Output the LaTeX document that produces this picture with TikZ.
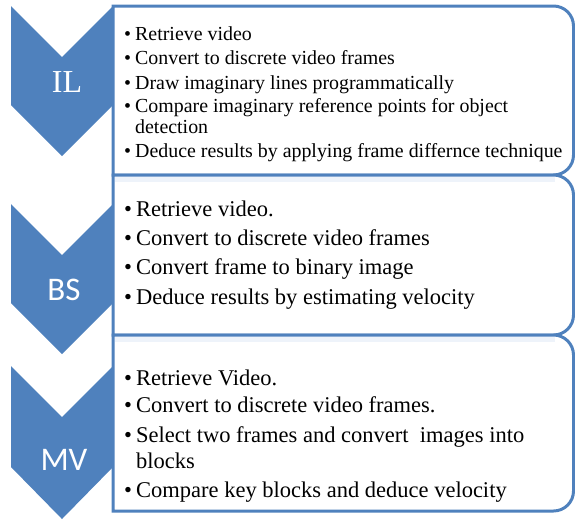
\documentclass[tikz,border=0pt]{standalone}
\usepackage{fontspec}
\setmainfont{Liberation Serif}
\newfontfamily\carlitofont{Carlito}
\definecolor{ablue}{HTML}{4F81BD}
\definecolor{strip}{HTML}{EEF3FA}
\tikzset{
  chev/.style={fill=ablue, draw=none},
  boxline/.style={draw=ablue, line width=3pt, fill=white},
  stripfill/.style={fill=strip, draw=none},
  ilbl/.style={text=white, inner sep=0pt, font=\fontsize{32}{32}\selectfont},
  sbl/.style={text=white, inner sep=0pt, font=\carlitofont\fontsize{33}{33}\selectfont},
  smalltxt/.style={anchor=base west, inner sep=0pt, font=\fontsize{19.9}{19.9}\selectfont},
  bigtxt/.style={anchor=base west, inner sep=0pt, font=\fontsize{22.5}{22.5}\selectfont},
}
\begin{document}
\begin{tikzpicture}[x=1pt,y=1pt]
\useasboundingbox (0,0) rectangle (575,-520);
% chevrons
\path[chev] (11,-6) -- (62,-57) -- (113,-6) -- (113,-105) -- (62,-156) -- (11,-105) -- cycle;
\path[chev] (11,-204) -- (62,-255) -- (113,-204) -- (113,-303) -- (62,-354) -- (11,-303) -- cycle;
\path[chev] (11,-366) -- (62,-417) -- (113,-366) -- (113,-467) -- (62,-519) -- (11,-467) -- cycle;
% boxes
\draw[boxline] (113,-175) -- (113,-6) -- (553.5,-6) arc[start angle=90,end angle=0,radius=20] -- (573.5,-155) arc[start angle=0,end angle=-90,radius=20] -- cycle;
\draw[boxline] (113,-335) -- (113,-175) -- (553.5,-175) arc[start angle=90,end angle=0,radius=20] -- (573.5,-315) arc[start angle=0,end angle=-90,radius=20] -- cycle;
\draw[boxline] (113,-511) -- (113,-335) -- (553.5,-335) arc[start angle=90,end angle=0,radius=20] -- (573.5,-491) arc[start angle=0,end angle=-90,radius=20] -- cycle;
\path[stripfill] (114.5,-176.5) rectangle (555,-182);
\path[stripfill] (114.5,-336.5) rectangle (555,-342);
% labels
\node[ilbl] (il) at (67,-82) {IL};
\node[sbl] (bs) at (64,-290) {BS};
\node[sbl] (mv) at (64,-460) {MV};
% IL text
\node[smalltxt] (ilb1) at (124,-40) {•};
\node[smalltxt] (ilt1) at (135,-40) {Retrieve video};
\node[smalltxt] (ilb2) at (124,-64.5) {•};
\node[smalltxt] (ilt2) at (135,-64.5) {Convert to discrete video frames};
\node[smalltxt] (ilb3) at (124,-89) {•};
\node[smalltxt] (ilt3) at (135,-89) {Draw imaginary lines programmatically};
\node[smalltxt] (ilb4) at (124,-112.5) {•};
\node[smalltxt] (ilt4) at (135,-112.5) {Compare imaginary reference points for object};
\node[smalltxt] (ilt4b) at (135,-133) {detection};
\node[smalltxt] (ilb5) at (124,-157) {•};
\node[smalltxt] (ilt5) at (135,-157) {Deduce results by applying frame differnce technique};
% BS text
\node[bigtxt] (bsb1) at (124,-216) {•};
\node[bigtxt] (bst1) at (136,-216) {Retrieve video.};
\node[bigtxt] (bsb2) at (124,-245) {•};
\node[bigtxt] (bst2) at (136,-245) {Convert to discrete video frames};
\node[bigtxt] (bsb3) at (124,-274.5) {•};
\node[bigtxt] (bst3) at (136,-274.5) {Convert frame to binary image};
\node[bigtxt] (bsb4) at (124,-304) {•};
\node[bigtxt] (bst4) at (136,-304) {Deduce results by estimating velocity};
% MV text
\node[bigtxt] (mvb1) at (124,-385) {•};
\node[bigtxt] (mvt1) at (136,-385) {Retrieve Video.};
\node[bigtxt] (mvb2) at (124,-412.5) {•};
\node[bigtxt] (mvt2) at (136,-412.5) {Convert to discrete video frames.};
\node[bigtxt] (mvb3) at (124,-442) {•};
\node[bigtxt] (mvt3) at (136,-442) {Select two frames and convert\ \ images into};
\node[bigtxt] (mvt3b) at (136,-468.6) {blocks};
\node[bigtxt] (mvb4) at (124,-497) {•};
\node[bigtxt] (mvt4) at (136,-497) {Compare key blocks and deduce velocity};
\end{tikzpicture}
\end{document}
